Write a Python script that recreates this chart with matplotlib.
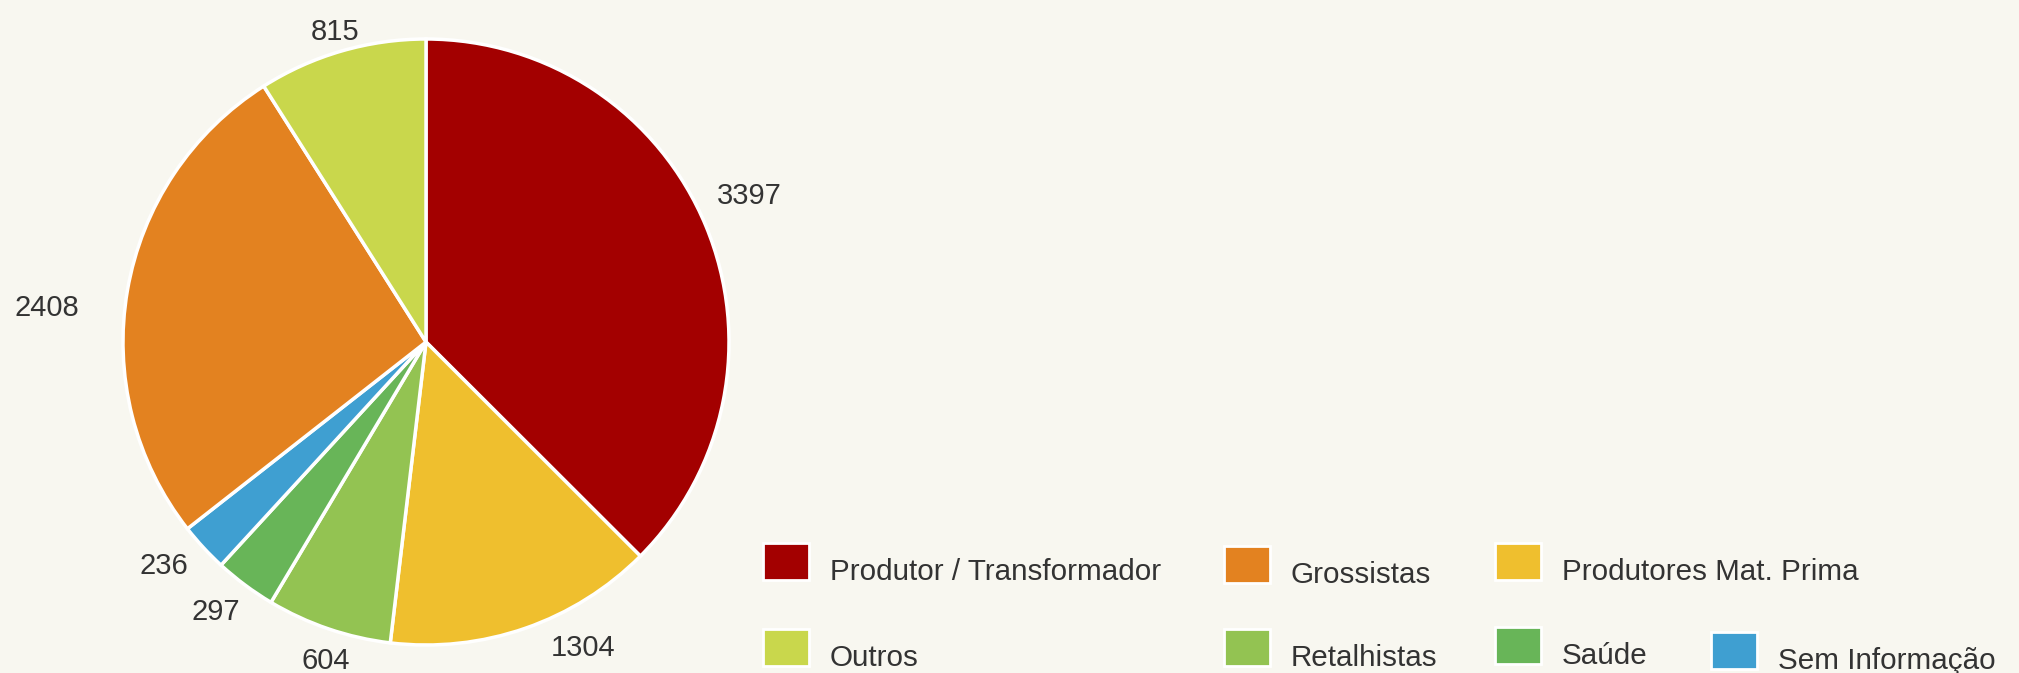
import numpy as np
import matplotlib.pyplot as plt
import matplotlib.transforms as mtransforms
from matplotlib.patches import Rectangle

plt.rcParams['font.family'] = ['Liberation Sans', 'DejaVu Sans']

# dados (ordem do gráfico, sentido horário a partir do topo)
categorias = ['Produtor / Transformador', 'Produtores Mat. Prima', 'Retalhistas',
              'Saúde', 'Sem Informação', 'Grossistas', 'Outros']
valores = [3397, 1304, 604, 297, 236, 2408, 815]
cores = ['#a30000', '#efbf2e', '#93c352', '#68b558', '#3f9fd1', '#e38220', '#c9d74c']

# ordem da legenda
ordem_legenda = ['Produtor / Transformador', 'Grossistas', 'Produtores Mat. Prima',
                 'Outros', 'Retalhistas', 'Saúde', 'Sem Informação']

# ajuste fino dos rótulos (graus, raio relativo)
desvio_ang = [4.8, 3.3, 1.1, 1.7, 0.0, 3.5, 0.0]
raio_rot = [1.08, 1.08, 1.09, 1.07, 1.07, 1.15, 1.08]

fundo = '#f8f7f0'
W, H = 2019, 673
fig = plt.figure(figsize=(W / 100, H / 100), dpi=100, facecolor=fundo)

# eixo do gráfico de pizza: centro em (426, 342) px, raio 303 px
cx, cy, r_px = 426, 342, 303
half = 1.1 * r_px
ax = fig.add_axes([(cx - half) / W, (H - cy - half) / H, 2 * half / W, 2 * half / H])
ax.set_facecolor(fundo)
wedges, _ = ax.pie(valores, colors=cores, startangle=90, counterclock=False,
                   radius=1.0, wedgeprops=dict(edgecolor='white', linewidth=2.5))
ax.set_xlim(-1.1, 1.1)
ax.set_ylim(-1.1, 1.1)
ax.set_aspect('equal')
ax.axis('off')

# rótulos com os valores (um pouco abaixo do ponto de ancoragem)
desce = ax.transData + mtransforms.ScaledTranslation(0, -0.04, fig.dpi_scale_trans)
total = sum(valores)
acum = 0
for v, d, rr in zip(valores, desvio_ang, raio_rot):
    meio = 90 - 360 * (acum + v / 2) / total
    acum += v
    a = np.radians(meio + d)
    c, s = np.cos(a), np.sin(a)
    if c > 0.35:
        ha = 'left'
    elif c < -0.35:
        ha = 'right'
    else:
        ha = 'center'
    ax.text(rr * c, rr * s, str(v), ha=ha, va='center', fontsize=21,
            color='#333333', clip_on=False, transform=desce)

# legenda manual
cor_de = dict(zip(categorias, cores))
col_x = [763, 1224, 1495, 1711]
posicoes = [(col_x[0], 562), (col_x[1], 565), (col_x[2], 562),
            (col_x[0], 648), (col_x[1], 648), (col_x[2], 646), (col_x[3], 651)]
for nome, (x, y) in zip(ordem_legenda, posicoes):
    fig.patches.append(Rectangle((x / W, (H - y - 18) / H), 46 / W, 37 / H,
                                 transform=fig.transFigure, facecolor=cor_de[nome],
                                 edgecolor='white', linewidth=2))
    fig.text((x + 67) / W, (H - y - 10) / H, nome, fontsize=21.3, color='#333333',
             ha='left', va='center')

fig.savefig('out.png', dpi=100, facecolor=fundo)
